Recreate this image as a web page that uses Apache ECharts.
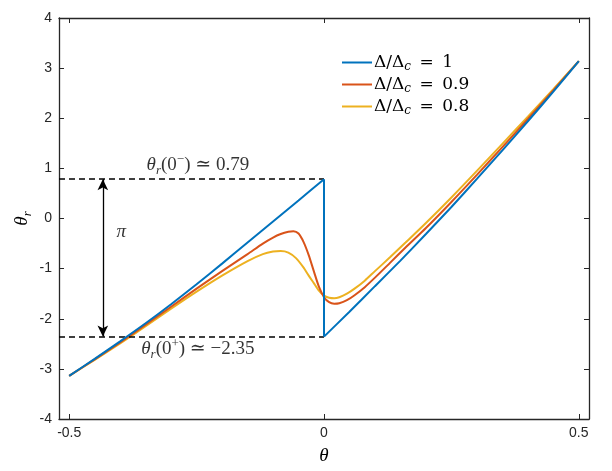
<!DOCTYPE html>
<html>
<head>
<meta charset="utf-8">
<script src="https://cdn.jsdelivr.net/npm/echarts@6/dist/echarts.min.js"></script>
<style>
html,body{margin:0;padding:0;background:#fff;}
#chart{width:612px;height:471px;}
</style>
</head>
<body>
<div id="chart"></div>
<script>
// ---- data ----
const seriesNames = ['Δ/Δc = 1', 'Δ/Δc = 0.9', 'Δ/Δc = 0.8'];

// Δ/Δc = 1 : left branch, jump at θ = 0, right branch
const blueLeftX = [-0.5,-0.45,-0.4,-0.35,-0.3,-0.25,-0.2,-0.15,-0.1,-0.05,0];
const blueLeftY = [-3.14,-2.80,-2.45,-2.09,-1.71,-1.31,-0.90,-0.48,-0.06,0.36,0.785];
const blueJumpX = [0, 0];
const blueJumpY = [0.785, -2.356];
const blueRightX = [0,0.05,0.1,0.15,0.2,0.25,0.3,0.35,0.4,0.45,0.5];
const blueRightY = [-2.356,-1.86,-1.35,-0.84,-0.31,0.23,0.79,1.36,1.94,2.53,3.14];

const redX = [-0.5,-0.45,-0.4,-0.35,-0.3,-0.25,-0.2,-0.15,-0.12,-0.1,-0.085,-0.07,-0.06,-0.05,-0.04,-0.03,-0.02,-0.01,0,0.01,0.02,0.03,0.045,0.06,0.08,0.1,0.13,0.16,0.2,0.25,0.3,0.35,0.4,0.45,0.5];
const redY = [-3.14,-2.81,-2.47,-2.12,-1.76,-1.40,-1.05,-0.71,-0.50,-0.38,-0.31,-0.265,-0.255,-0.30,-0.47,-0.73,-1.05,-1.36,-1.57,-1.67,-1.70,-1.69,-1.63,-1.53,-1.37,-1.18,-0.88,-0.58,-0.19,0.33,0.87,1.425,1.985,2.555,3.14];

const yellowX = [-0.5,-0.45,-0.4,-0.35,-0.3,-0.25,-0.2,-0.15,-0.12,-0.1,-0.085,-0.07,-0.055,-0.04,-0.03,-0.02,-0.01,0,0.01,0.02,0.03,0.045,0.06,0.08,0.1,0.13,0.16,0.2,0.25,0.3,0.35,0.4,0.45,0.5];
const yellowY = [-3.14,-2.82,-2.49,-2.15,-1.80,-1.46,-1.14,-0.85,-0.71,-0.66,-0.65,-0.68,-0.79,-0.98,-1.14,-1.29,-1.44,-1.54,-1.58,-1.59,-1.57,-1.50,-1.40,-1.24,-1.05,-0.77,-0.48,-0.09,0.42,0.95,1.49,2.03,2.58,3.14];

const xTicks = [-0.5, 0, 0.5];

// reference levels and annotations (data units)
const levelMinus = 0.785;   // θr(0−)
const levelPlus = -2.356;   // θr(0+)
const arrowX = -0.434;
const annotations = [
  {x: -0.2475, y: 1.07, text: '{it|θ}{sub|r}{n|(0}{sup|−}{n|) ≃ 0.79}'},
  {x: -0.2475, y: -2.61, text: '{it|θ}{sub|r}{n|(0}{sup|+}{n|) ≃ −2.35}'},
  {x: -0.398, y: -0.26, text: '{it|π}'}
];

const xMin = -0.52, xMax = 0.52;

function zip(xs, ys) { return xs.map((x, i) => [x, ys[i]]); }

const colors = ['#0072BD', '#D95319', '#EDB120'];
const axisColor = '#262626';
const serif = '"Liberation Serif", "DejaVu Serif", serif';
const wideSerif = '"DejaVu Serif", "Liberation Serif", serif';
const sans = '"Liberation Sans", Arial, sans-serif';

const richMath = {
  it: {fontFamily: serif, fontStyle: 'italic', fontSize: 19, color: '#000', lineHeight: 24, verticalAlign: 'middle'},
  n: {fontFamily: serif, fontSize: 19, color: '#000', lineHeight: 24, verticalAlign: 'middle'},
  sub: {fontFamily: serif, fontStyle: 'italic', fontSize: 13, color: '#000', lineHeight: 13, verticalAlign: 'bottom'},
  sup: {fontFamily: serif, fontSize: 13, color: '#000', lineHeight: 13, verticalAlign: 'top'}
};

const chart = echarts.init(document.getElementById('chart'), null, {renderer: 'canvas'});

const xAxisBase = {
  type: 'value', min: xMin, max: xMax,
  axisLine: {show: true, onZero: false, lineStyle: {color: axisColor, width: 1.3}},
  axisTick: {show: true, inside: true, length: 5, customValues: xTicks, lineStyle: {color: axisColor, width: 1}},
  splitLine: {show: false}
};
const yAxisBase = {
  type: 'value', min: -4, max: 4, interval: 1,
  axisLine: {show: true, onZero: false, lineStyle: {color: axisColor, width: 1.3}},
  axisTick: {show: true, inside: true, length: 5, lineStyle: {color: axisColor, width: 1}},
  splitLine: {show: false}
};

function curve(name, data, color, z, smooth) {
  return {
    name: name, type: 'line', data: data, smooth: smooth,
    showSymbol: false, symbol: 'none', color: color,
    lineStyle: {width: 2, color: color}, z: z
  };
}

const option = {
  backgroundColor: '#fff',
  animation: false,
  grid: {left: 59, right: 23, top: 18, bottom: 52, containLabel: false},
  legend: {
    data: seriesNames,
    orient: 'vertical',
    left: 337, top: 49,
    itemWidth: 30, itemHeight: 12, itemGap: 3,
    icon: 'path://M0,0 L30,0 L30,2 L0,2 Z',
    formatter: function (name) {
      const v = name.split('= ')[1];
      return '{d|Δ/Δ}{c|c}{d|\u2002=\u2002' + v + '}';
    },
    textStyle: {
      fontFamily: wideSerif, fontSize: 17, color: '#000', padding: [0, 0, 0, -3],
      rich: {
        d: {fontFamily: wideSerif, fontSize: 17, color: '#000', lineHeight: 21, verticalAlign: 'middle'},
        c: {fontFamily: wideSerif, fontStyle: 'italic', fontSize: 12, color: '#000', lineHeight: 13, verticalAlign: 'bottom'}
      }
    }
  },
  xAxis: [
    Object.assign({}, xAxisBase, {
      position: 'bottom',
      axisLabel: {show: true, customValues: xTicks, margin: 7, fontFamily: sans, fontSize: 14, color: axisColor,
        formatter: v => String(v)},
      name: '{it|θ}', nameLocation: 'middle', nameGap: 25, nameMoveOverlap: false,
      nameTextStyle: {rich: richMath}
    }),
    Object.assign({}, xAxisBase, {position: 'top', axisLabel: {show: false}})
  ],
  yAxis: [
    Object.assign({}, yAxisBase, {
      position: 'left',
      axisLabel: {show: true, margin: 7, fontFamily: sans, fontSize: 14, color: axisColor},
      name: '{it|θ}{sub|r}', nameLocation: 'middle', nameGap: 25, nameRotate: 90, nameMoveOverlap: false,
      nameTextStyle: {rich: richMath}
    }),
    Object.assign({}, yAxisBase, {position: 'right', axisLabel: {show: false}})
  ],
  series: [
    {
      name: 'refs', type: 'line', data: [], silent: true,
      markLine: {
        silent: true, symbol: ['none', 'none'], label: {show: false},
        lineStyle: {color: '#000', type: [6, 4], width: 1.5},
        data: [
          [{coord: [xMin, levelMinus]}, {coord: [0, levelMinus]}],
          [{coord: [xMin, levelPlus]}, {coord: [0, levelPlus]}]
        ]
      }
    },
    {
      name: 'arrow', type: 'line', data: [], silent: true,
      markLine: {
        silent: true, symbol: ['arrow', 'arrow'], symbolSize: [8, 11], label: {show: false},
        lineStyle: {color: '#000', type: 'solid', width: 1.3},
        data: [[{coord: [arrowX, levelMinus]}, {coord: [arrowX, levelPlus]}]]
      }
    },
    curve(seriesNames[0], zip(blueLeftX, blueLeftY), colors[0], 5, 0.2),
    curve(seriesNames[0], zip(blueJumpX, blueJumpY), colors[0], 5, false),
    curve(seriesNames[0], zip(blueRightX, blueRightY), colors[0], 5, 0.2),
    curve(seriesNames[1], zip(redX, redY), colors[1], 4, 0.25),
    curve(seriesNames[2], zip(yellowX, yellowY), colors[2], 3, 0.25),
    {
      name: 'annot', type: 'scatter', symbolSize: 0, silent: true,
      data: annotations.map(a => ({value: [a.x, a.y], label: {formatter: a.text}})),
      label: {show: true, position: 'inside', rich: richMath}
    }
  ]
};
chart.setOption(option);
</script>
</body>
</html>
